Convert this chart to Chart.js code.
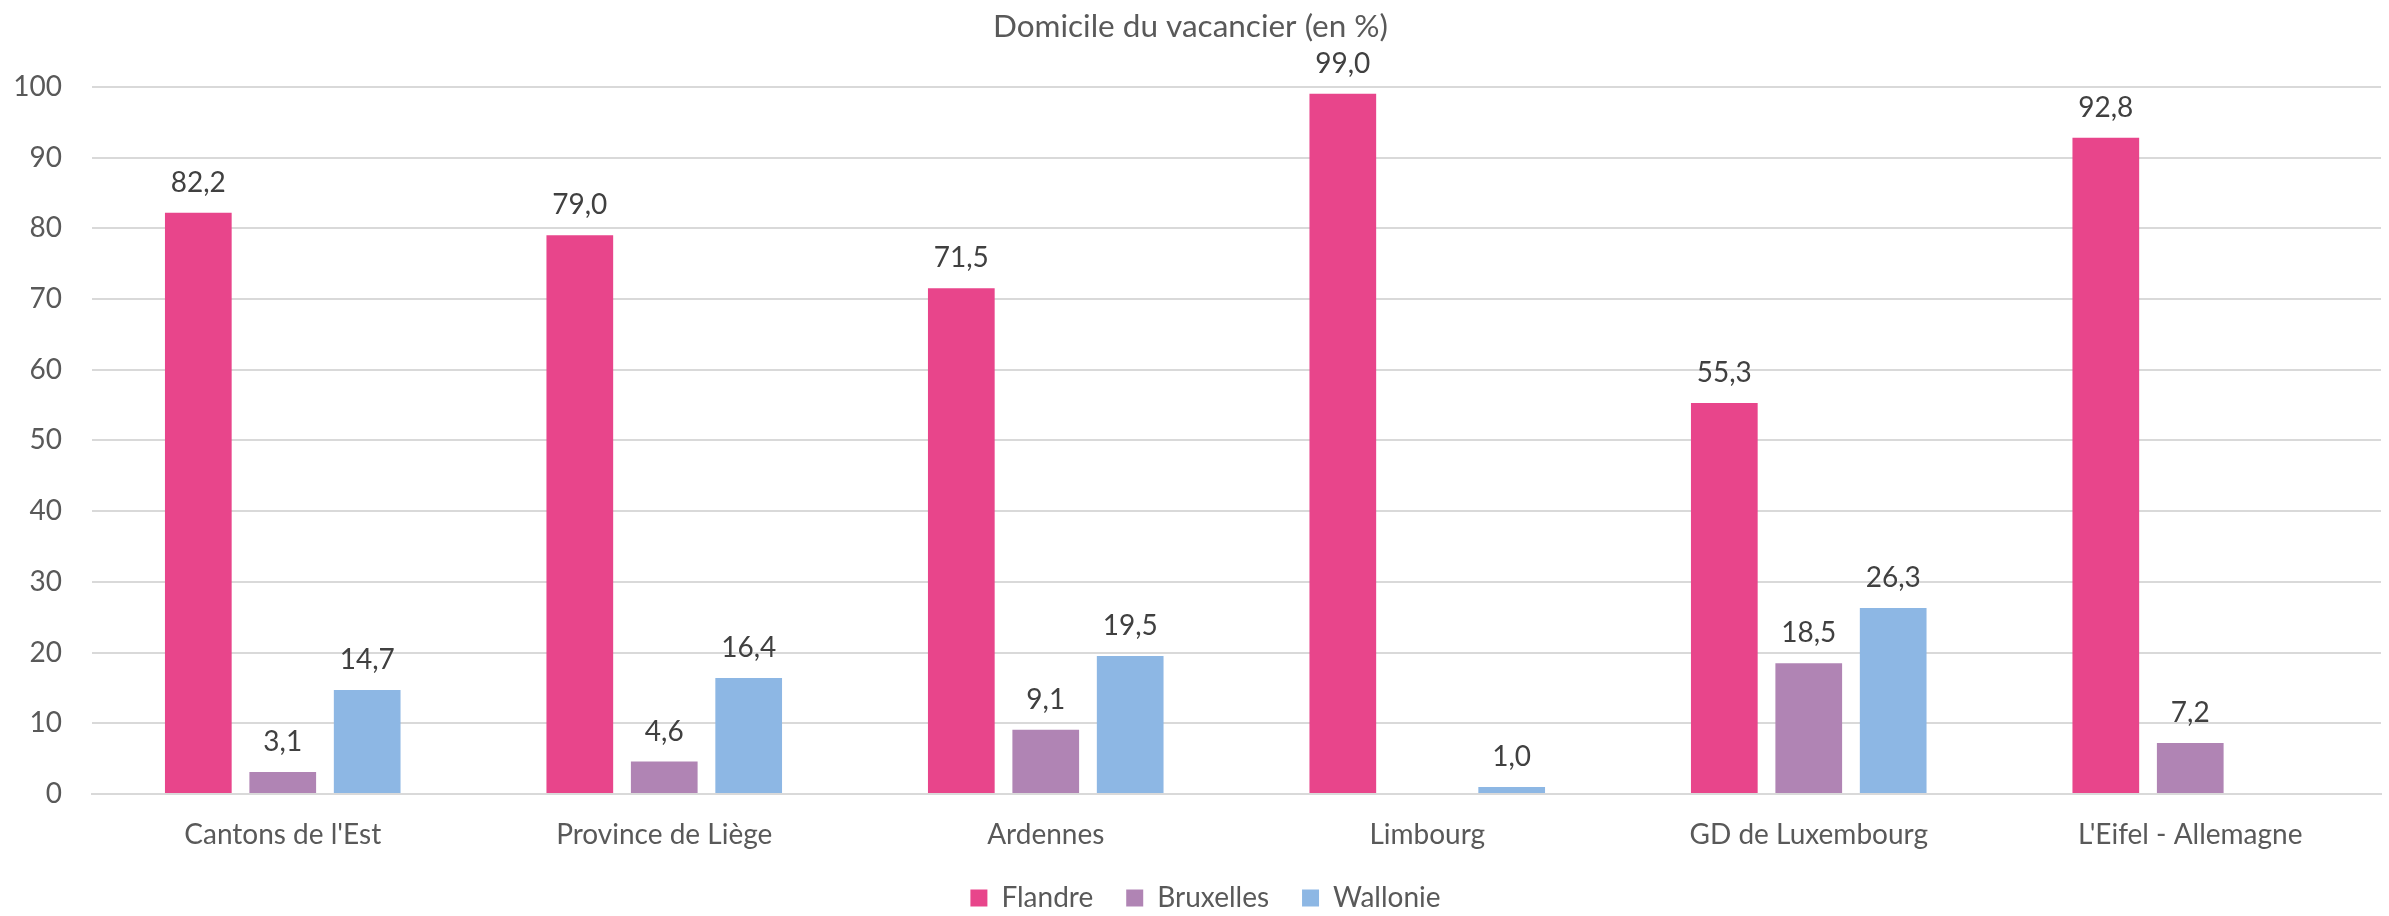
<!DOCTYPE html>
<html>
<head>
<meta charset="utf-8">
<script src="https://cdn.jsdelivr.net/npm/chart.js@4.4.1/dist/chart.umd.min.js"></script>
<style>
  html, body { margin: 0; padding: 0; background: #fff; }
</style>
</head>
<body>
<canvas id="myBarChart" width="2389" height="916"></canvas>
<script>
// data
var regions = ["Cantons de l'Est", "Province de Liège", "Ardennes", "Limbourg", "GD de Luxembourg", "L'Eifel - Allemagne"];
var flandre = [82.2, 79.0, 71.5, 99.0, 55.3, 92.8];
var bruxelles = [3.1, 4.6, 9.1, null, 18.5, 7.2];
var wallonie = [14.7, 16.4, 19.5, 1.0, 26.3, null];
var yTicks = [0, 10, 20, 30, 40, 50, 60, 70, 80, 90, 100];

var textColor = '#595959';

// labels above the bars, with a comma as decimal sign
var barLabels = {
    id: 'barLabels',
    afterDatasetsDraw(chart) {
        var ctx = chart.ctx;
        ctx.save();
        ctx.font = '28px Lato';
        ctx.fillStyle = '#404040';
        ctx.textAlign = 'center';
        ctx.textBaseline = 'middle';
        chart.data.datasets.forEach((ds, i) => {
            chart.getDatasetMeta(i).data.forEach((bar, j) => {
                if (ds.data[j] == null) return;
                ctx.fillText(ds.data[j].toFixed(1).replace('.', ','), bar.x, bar.y - 30);
            });
        });
        ctx.restore();
    }
};

// legend sits a bit right of the canvas centre in the original
var legendShift = {
    id: 'legendShift',
    afterLayout(chart) {
        chart.legend.left += 30;
    }
};

var ctx1 = document.getElementById('myBarChart').getContext('2d');
var myBarChart = new Chart(ctx1, {
    type: 'bar',
    data: {
        labels: regions,
        datasets: [
            { label: 'Flandre', data: flandre, backgroundColor: '#E8458B' },
            { label: 'Bruxelles', data: bruxelles, backgroundColor: '#B084B4' },
            { label: 'Wallonie', data: wallonie, backgroundColor: '#8DB7E4' }
        ]
    },
    options: {
        responsive: false,
        animation: false,
        devicePixelRatio: 1,
        layout: { padding: { top: 0, right: 8, bottom: -6, left: 0 } },
        datasets: {
            bar: { categoryPercentage: 0.664, barPercentage: 0.79 }
        },
        plugins: {
            title: {
                display: true,
                text: 'Domicile du vacancier (en %)',
                color: textColor,
                font: { family: 'Lato', size: 31.5, weight: 'normal' },
                padding: { top: 8, bottom: 41 }
            },
            legend: {
                position: 'bottom',
                labels: {
                    color: textColor,
                    font: { family: 'Lato', size: 28 },
                    boxWidth: 17,
                    boxHeight: 17,
                    padding: 33
                }
            },
            tooltip: { enabled: false }
        },
        scales: {
            x: {
                grid: { display: false, drawTicks: false },
                border: { color: '#d9d9d9', width: 2 },
                ticks: { color: textColor, font: { family: 'Lato', size: 28 }, padding: 24, maxRotation: 0 },
                afterFit(scale) { scale.height = 57; }
            },
            y: {
                min: 0,
                max: 100,
                afterBuildTicks(scale) { scale.ticks = yTicks.map(v => ({ value: v })); },
                grid: { color: '#d9d9d9', lineWidth: 2, drawTicks: false },
                border: { display: false },
                ticks: { color: textColor, font: { family: 'Lato', size: 28 }, padding: 30 },
                afterFit(scale) { scale.width = 92; }
            }
        }
    },
    plugins: [barLabels, legendShift]
});
</script>
</body>
</html>
